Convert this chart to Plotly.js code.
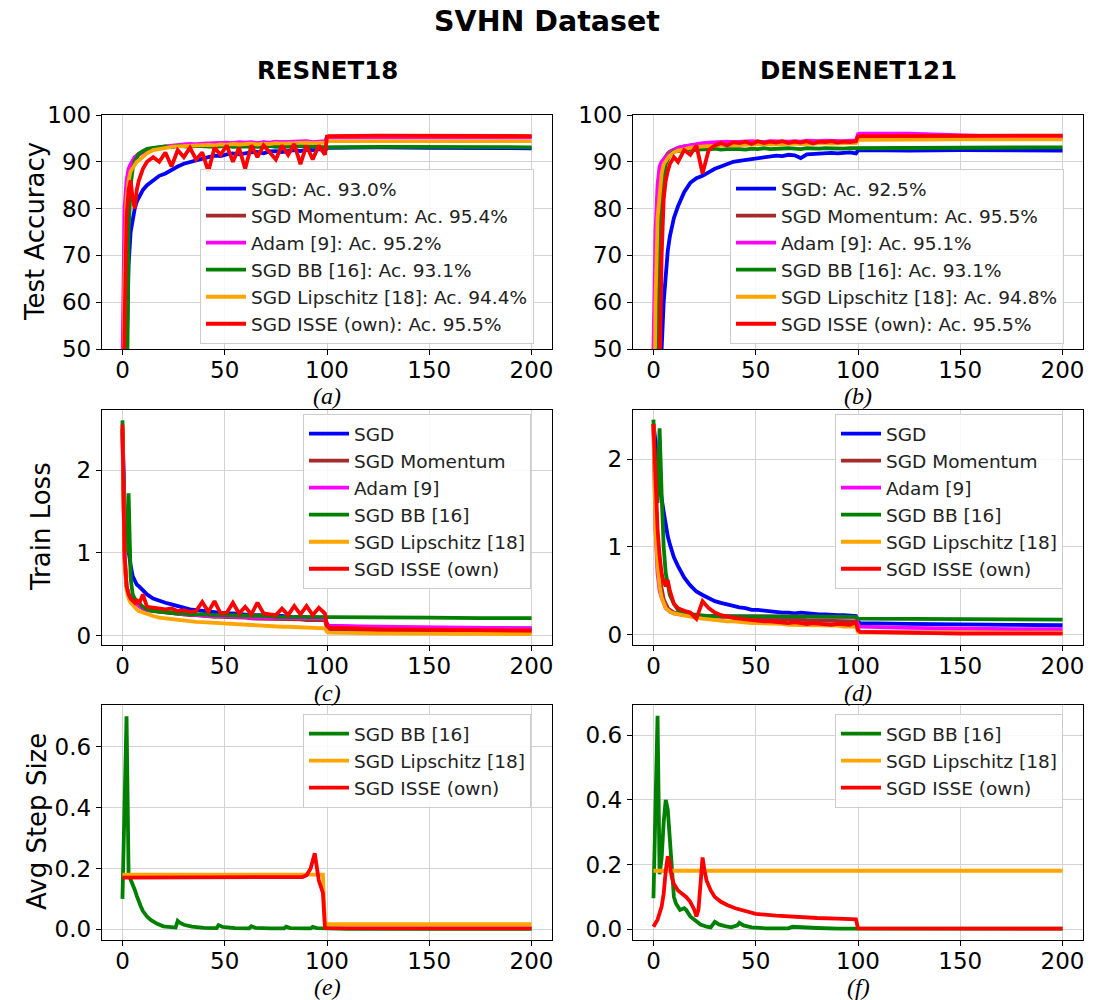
<!DOCTYPE html>
<html>
<head>
<meta charset="utf-8">
<script src="https://cdn.plot.ly/plotly-3.0.1.min.js"></script>
<style>html,body{margin:0;padding:0;background:#fff;}#chart{width:1094px;height:1000px;}</style>
</head>
<body>
<div id="chart"></div>
<script>
// ---------- DATA ----------
const methodNames = ["SGD", "SGD Momentum", "Adam [9]", "SGD BB [16]", "SGD Lipschitz [18]", "SGD ISSE (own)"];
const resFinalAcc = ["93.0", "95.4", "95.2", "93.1", "94.4", "95.5"];
const denFinalAcc = ["92.5", "95.5", "95.1", "93.1", "94.8", "95.5"];
const panelLabels = ["(a)", "(b)", "(c)", "(d)", "(e)", "(f)"];
const yTitles = ["Test Accuracy", "Train Loss", "Avg Step Size"];
const colTitles = ["RESNET18", "DENSENET121"];

const epochs = [0,1,2,3,4,5,6,7,8, 10,12,
  15,18,21,24,27,30,33,36,39, 42,45,48,51,54,57,60,63,66,
  69,72,75,78,81,84,87,90,93,96,99, 100,101,125,150,175,200];

// (a) ResNet18 test accuracy
const resSgdAcc  = [20,30,48,68,75,78,80,81.5,82.5, 84,85, 86,87,87.5,88.3,89,89.6,90,90.4,90.8, 91,91.3,91.2,91.6,91.8,91.6,91.9,92,92.1, 91.8,92.2,92.3,92.1,92.4,92.5,92.3,92.6,92.5,92.7,92.5, 92.9,93.0,93.1,93.0,93.0,92.9];
const resMomAcc  = [30,72,84,87,89,90,90.8,91.3,91.7, 92.2,92.5, 92.8,93,93.2,93.3,93.4,93.5,93.6,93.5,93.7, 93.8,93.7,93.9,93.8,94,93.9,94,94.1,93.9, 94.1,94,94.2,94.1,94.2,94,94.2,94.3,94.1,94.2,94.2, 95.3,95.4,95.4,95.4,95.4,95.4];
const resAdamAcc = [45,80,86,88.5,89.5,90.5,91,91.3,91.6, 92,92.4, 92.8,93.1,93.3,93.5,93.6,93.7,93.8,93.7,93.9, 94,93.9,94,94.1,94,94.2,94.1,94.2,94, 94.2,94.1,94.3,94.2,94.3,94.2,94.3,94.4,94.2,94.3,94.4, 95.1,95.2,95.3,95.2,95.2,95.2];
const resBbAcc   = [10,10,30,75,85,88.5,90,91,91.7, 92.3,92.8, 93,93.2,93.3,93.1,93.4,93.3,93.2,93.4,93.3, 93.4,93.2,93.3,93.4,93.2,93.3,93.4,93.3,93.2, 93.3,93.4,93.2,93.3,93.3,93.2,93.4,93.3,93.2,93.3,93.2, 93.1,93.1,93.2,93.1,93.1,93.1];
const resLipAcc  = [20,65,82,86,88,88.8,89.5,90,90.3, 91,91.8, 92.5,92.8,93,93.2,93.3,93.4,93.5,93.4,93.6, 93.6,93.5,93.7,93.6,93.8,93.7,93.8,93.9,93.7, 93.9,93.8,94,93.9,94,93.9,94,94.1,94,94,94.1, 94.3,94.4,94.4,94.4,94.4,94.4];
const resIsseAcc = [30,55,78,84,86,82,80,84,86, 88.5,90, 91,90,92,89,92.5,91,93,90.5,92, 88,93,91.5,93.5,90,93,88.5,93.5,91, 93.5,92,90.5,93.5,91.5,93.8,89.5,93.5,90.5,93.5,91.5, 95.4,95.5,95.6,95.5,95.5,95.5];

// (b) DenseNet121 test accuracy
const denSgdAcc  = [10,10,10,30,50,60,67,71,74, 78,80.5, 83.5,85.5,86.5,87,87.8,88.5,89,89.5,90, 90.2,90.4,90.6,90.8,91,91,91.3,91.2,91.5, 91.4,90.8,91.6,91.7,91.7,91.8,91.9,91.8,92,92,91.8, 92.4,92.5,92.4,92.5,92.4,92.4];
const denMomAcc  = [10,40,75,86,89,90.5,91.3,91.8,92.2, 92.7,93, 93.3,93.5,93.6,93.8,93.7,93.9,94,93.9,94, 94.1,94,94.1,94.2,94.1,94,94.2,94.1,94.2, 94.2,94.1,94.3,94.2,94.2,94.3,94.2,94.3,94.2,94.3,94.3, 95.4,95.5,95.5,95.5,95.5,95.5];
const denAdamAcc = [50,75,85,89,90,90.5,91,91.5,92, 92.5,93, 93.3,93.6,93.8,94,94.1,94.2,94.1,94.3,94.2, 94.3,94.2,94.4,94.3,94.2,94.4,94.3,94.4,94.3, 94.4,94.3,94.5,94.4,94.4,94.5,94.4,94.5,94.4,94.5,94.5, 95.9,96,96,95.6,95.3,95.1];
const denBbAcc   = [10,10,30,70,82,87,89.5,90.8,91.5, 92.2,92.4, 92.5,92.6,92.5,92.7,92.6,92.8,92.6,92.7,92.8, 92.7,92.6,92.8,92.7,92.9,92.7,92.8,92.7,92.9, 92.8,92.7,92.9,92.8,92.8,92.9,92.8,92.9,92.8,92.9,92.9, 93.1,93.1,93,93.1,93.1,93.1];
const denLipAcc  = [20,60,78,84,87.5,89.5,90.3,90.8,91.3, 92,92.4, 92.8,93,93.2,93.3,93.4,93.5,93.4,93.6,93.5, 93.6,93.7,93.6,93.7,93.8,93.7,93.8,93.7,93.8, 93.9,93.8,93.9,93.8,93.9,94,93.9,94,93.9,94,94, 94.6,94.7,94.8,94.8,94.8,94.8];
const denIsseAcc = [10,10,20,45,70,82,86,88,89.5, 91,90, 92.5,91.5,93.5,87.5,92.5,93.5,94,93.5,94.2, 94,94.3,93.8,94.4,94,94.3,94.1,94.4,94, 94.3,94.1,94.4,93.9,94.3,94.2,94.4,94.1,94.3,94.2,94.4, 95.4,95.5,95.5,95.5,95.5,95.6];

// (c) ResNet18 train loss
const resSgdLoss  = [2.5,1.6,1.2,1.0,0.85,0.72,0.66,0.62,0.6, 0.55,0.5, 0.45,0.42,0.4,0.38,0.36,0.33,0.32,0.31,0.3, 0.29,0.28,0.28,0.27,0.27,0.26,0.26,0.25,0.25, 0.25,0.24,0.24,0.24,0.23,0.23,0.23,0.23,0.22,0.22,0.22, 0.14,0.12,0.1,0.095,0.09,0.09];
const resMomLoss  = [2.5,1.0,0.6,0.5,0.45,0.42,0.4,0.38,0.36, 0.33,0.31, 0.3,0.29,0.28,0.27,0.27,0.26,0.25,0.25,0.24, 0.24,0.23,0.23,0.23,0.22,0.22,0.22,0.21,0.21, 0.21,0.21,0.2,0.2,0.2,0.2,0.2,0.19,0.19,0.19,0.19, 0.09,0.07,0.06,0.055,0.05,0.05];
const resAdamLoss = [2.45,0.9,0.6,0.5,0.45,0.42,0.4,0.38,0.36, 0.33,0.31, 0.3,0.29,0.28,0.27,0.27,0.26,0.26,0.25,0.25, 0.24,0.24,0.24,0.23,0.23,0.23,0.23,0.22,0.22, 0.22,0.22,0.22,0.22,0.21,0.21,0.21,0.21,0.21,0.21,0.21, 0.14,0.12,0.11,0.1,0.09,0.09];
const resBbLoss   = [2.6,1.2,1.0,1.72,0.7,0.5,0.45,0.42,0.4, 0.35,0.32, 0.3,0.29,0.28,0.28,0.27,0.27,0.26,0.26,0.26, 0.25,0.25,0.25,0.25,0.24,0.24,0.24,0.24,0.24, 0.24,0.24,0.23,0.23,0.23,0.23,0.23,0.23,0.23,0.23,0.23, 0.225,0.225,0.22,0.22,0.215,0.215];
const resLipLoss  = [2.5,0.9,0.55,0.45,0.4,0.37,0.34,0.32,0.3, 0.28,0.26, 0.24,0.22,0.21,0.2,0.19,0.18,0.175,0.17,0.165, 0.16,0.155,0.15,0.145,0.14,0.135,0.13,0.13,0.125, 0.12,0.12,0.115,0.11,0.11,0.105,0.1,0.1,0.1,0.095,0.09, 0.05,0.04,0.03,0.025,0.022,0.02];
const resIsseLoss = [2.55,1.0,0.6,0.5,0.45,0.42,0.4,0.44,0.38, 0.5,0.35, 0.34,0.33,0.32,0.33,0.3,0.31,0.29,0.3,0.41, 0.29,0.42,0.27,0.28,0.4,0.27,0.35,0.26,0.4, 0.27,0.26,0.25,0.33,0.25,0.36,0.26,0.36,0.25,0.34,0.27, 0.12,0.1,0.08,0.07,0.07,0.065];

// (d) DenseNet121 train loss
const denSgdLoss  = [2.4,2.2,1.9,1.7,1.55,1.4,1.25,1.12,1.03, 0.88,0.78, 0.65,0.56,0.49,0.45,0.41,0.38,0.36,0.34,0.32, 0.31,0.3,0.28,0.28,0.27,0.26,0.26,0.25,0.25, 0.24,0.25,0.24,0.23,0.23,0.23,0.22,0.22,0.22,0.22,0.21, 0.15,0.13,0.12,0.11,0.11,0.105];
const denMomLoss  = [2.4,1.5,0.9,0.65,0.5,0.4,0.35,0.3,0.28, 0.25,0.24, 0.23,0.22,0.22,0.21,0.21,0.2,0.2,0.2,0.19, 0.19,0.19,0.18,0.18,0.18,0.18,0.17,0.17,0.17, 0.17,0.17,0.16,0.16,0.16,0.16,0.16,0.15,0.15,0.15,0.15, 0.05,0.03,0.025,0.02,0.02,0.02];
const denAdamLoss = [2.35,1.2,0.7,0.5,0.42,0.35,0.3,0.28,0.26, 0.24,0.23, 0.22,0.22,0.21,0.21,0.21,0.21,0.21,0.2,0.2, 0.2,0.2,0.2,0.2,0.2,0.2,0.2,0.2,0.2, 0.2,0.2,0.2,0.2,0.2,0.2,0.2,0.2,0.2,0.2,0.2, 0.11,0.09,0.075,0.065,0.06,0.06];
const denBbLoss   = [2.45,1.6,1.5,2.35,1.6,1.0,0.7,0.55,0.45, 0.35,0.28, 0.24,0.23,0.22,0.22,0.21,0.21,0.21,0.2,0.2, 0.2,0.2,0.2,0.2,0.2,0.2,0.2,0.2,0.2, 0.2,0.2,0.2,0.2,0.2,0.2,0.2,0.2,0.2,0.2,0.2, 0.18,0.18,0.175,0.17,0.17,0.17];
const denLipLoss  = [2.4,1.2,0.8,0.55,0.42,0.35,0.3,0.28,0.26, 0.24,0.23, 0.21,0.2,0.19,0.18,0.17,0.16,0.16,0.15,0.15, 0.14,0.14,0.13,0.13,0.13,0.12,0.12,0.12,0.11, 0.11,0.11,0.11,0.1,0.1,0.1,0.1,0.1,0.09,0.09,0.09, 0.03,0.025,0.02,0.02,0.02,0.02];
const denIsseLoss = [2.4,1.7,1.2,0.9,0.7,0.6,0.55,0.62,0.5, 0.35,0.3, 0.27,0.25,0.18,0.38,0.3,0.25,0.22,0.2,0.19, 0.18,0.17,0.16,0.16,0.15,0.15,0.14,0.14,0.13, 0.14,0.13,0.12,0.13,0.12,0.12,0.11,0.12,0.11,0.11,0.14, 0.05,0.03,0.015,0.01,0.01,0.01];

// (e) ResNet18 average step size
const resBbStepX = [0,1,2,3,4,5,6,7,8,9,10, 12,14,17,20,23,26,27,28,30, 34,40,46,47,49, 55,62,63,65, 72,79,80,82, 90,92,93,95, 100,110,150,200];
const resBbStep  = [0.1,0.4,0.70,0.18,0.165,0.15,0.13,0.11,0.09,0.075,0.06, 0.042,0.03,0.018,0.01,0.007,0.006,0.028,0.022,0.015, 0.009,0.005,0.004,0.014,0.008, 0.004,0.003,0.01,0.005, 0.003,0.003,0.009,0.004, 0.003,0.003,0.008,0.004, 0.003,0.002,0.002,0.002];
const resLipStepX = [0,98,99,200];
const resLipStep  = [0.18,0.18,0.017,0.017];
const resIsseStepX = [0,85,88,90,92,94,95,96,97,98,99,100,150,200];
const resIsseStep  = [0.17,0.17,0.172,0.178,0.2,0.25,0.21,0.16,0.14,0.12,0.005,0.004,0.003,0.003];

// (f) DenseNet121 average step size
const denBbStepX = [0,1,2,3,4,5,6,7,8,9,10,11, 13,15,16,18,20, 23,26,28,30,32, 35,38,41,42,44, 48,55,62,66,68, 72,80,90,100,120, 150,200];
const denBbStep  = [0.096,0.35,0.66,0.17,0.22,0.33,0.40,0.37,0.29,0.18,0.1,0.08, 0.06,0.065,0.06,0.04,0.03, 0.015,0.008,0.006,0.023,0.015, 0.01,0.006,0.012,0.02,0.012, 0.006,0.003,0.003,0.003,0.008, 0.006,0.004,0.002,0.002,0.002, 0.002,0.002];
const denLipStepX = [0,200];
const denLipStep  = [0.181,0.181];
const denIsseStepX = [0,2,4,5,6,7,8,9,10, 12,14,16,18,20, 21,22,23,24,25,26, 28,30,33,36,40, 45,50,60,70,80, 90,98,99,100,200];
const denIsseStep  = [0.008,0.03,0.07,0.11,0.18,0.226,0.2,0.16,0.14, 0.12,0.11,0.1,0.085,0.06, 0.04,0.06,0.14,0.222,0.18,0.15, 0.12,0.1,0.085,0.075,0.065, 0.055,0.048,0.042,0.038,0.035, 0.033,0.031,0.031,0.003,0.002];

// ---------- STYLE ----------
const colors = ["#0000ff", "#a52a2a", "#ff00ff", "#008000", "#ffa500", "#ff0000"];
const LW = 3.8;

function tr(x, y, name, ci, ax, leg) {
  return {x: x, y: y, name: name, type: "scatter", mode: "lines",
    line: {color: colors[ci], width: LW}, xaxis: "x" + ax, yaxis: "y" + ax,
    legend: leg, hoverinfo: "skip"};
}

const traces = [];
const resAcc = [resSgdAcc, resMomAcc, resAdamAcc, resBbAcc, resLipAcc, resIsseAcc];
const denAcc = [denSgdAcc, denMomAcc, denAdamAcc, denBbAcc, denLipAcc, denIsseAcc];
const resLoss = [resSgdLoss, resMomLoss, resAdamLoss, resBbLoss, resLipLoss, resIsseLoss];
const denLoss = [denSgdLoss, denMomLoss, denAdamLoss, denBbLoss, denLipLoss, denIsseLoss];
for (let i = 0; i < 6; i++) traces.push(tr(epochs, resAcc[i], methodNames[i] + ": Ac. " + resFinalAcc[i] + "%", i, "", "legend"));
for (let i = 0; i < 6; i++) traces.push(tr(epochs, denAcc[i], methodNames[i] + ": Ac. " + denFinalAcc[i] + "%", i, "2", "legend2"));
for (let i = 0; i < 6; i++) traces.push(tr(epochs, resLoss[i], methodNames[i], i, "3", "legend3"));
for (let i = 0; i < 6; i++) traces.push(tr(epochs, denLoss[i], methodNames[i], i, "4", "legend4"));
traces.push(tr(resBbStepX, resBbStep, methodNames[3], 3, "5", "legend5"));
traces.push(tr(resLipStepX, resLipStep, methodNames[4], 4, "5", "legend5"));
traces.push(tr(resIsseStepX, resIsseStep, methodNames[5], 5, "5", "legend5"));
traces.push(tr(denBbStepX, denBbStep, methodNames[3], 3, "6", "legend6"));
traces.push(tr(denLipStepX, denLipStep, methodNames[4], 4, "6", "legend6"));
traces.push(tr(denIsseStepX, denIsseStep, methodNames[5], 5, "6", "legend6"));

const W = 1094, H = 1000;
const colX = [[102, 552], [633, 1083]];
const rowY = [[115, 349], [410, 645], [705, 940]];
const FONT = "DejaVu Sans, Verdana, sans-serif";
const SERIF = "Liberation Serif, DejaVu Serif, serif";

function xdom(c) { return [colX[c][0] / W, colX[c][1] / W]; }
function ydom(r) { return [1 - rowY[r][1] / H, 1 - rowY[r][0] / H]; }

const baseAx = {showline: true, mirror: true, linecolor: "#000", linewidth: 1.2,
  ticks: "outside", ticklen: 5, tickwidth: 1, tickcolor: "#000",
  showgrid: true, gridcolor: "#d3d3d3", gridwidth: 1, zeroline: false,
  tickfont: {family: FONT, size: 23, color: "#000"}, automargin: false, fixedrange: true};

function xa(c, r, anchor) {
  return Object.assign({}, baseAx, {domain: xdom(c), anchor: anchor, range: [-10, 210],
    tickvals: [0, 50, 100, 150, 200], ticklabelstandoff: -5});
}
function ya(c, r, anchor, range, tv, tt) {
  const o = Object.assign({}, baseAx, {domain: ydom(r), anchor: anchor, range: range, tickvals: tv});
  if (tt) o.ticktext = tt;
  return o;
}

const accTicks = [50, 60, 70, 80, 90, 100];
const stepTicks = [0, 0.2, 0.4, 0.6];
const stepText = ["0.0", "0.2", "0.4", "0.6"];

function leg(xpx, ypx) {
  return {x: xpx / W, y: 1 - ypx / H, xanchor: "left", yanchor: "top", xref: "paper", yref: "paper",
    bgcolor: "rgba(255,255,255,0.85)", bordercolor: "#cccccc", borderwidth: 1,
    font: {family: FONT, size: 18.5, color: "#222"}, itemwidth: 40, tracegroupgap: 0};
}

const annotations = [];
// column titles
[327, 858].forEach((cx, i) => annotations.push({text: "<b>" + colTitles[i] + "</b>", x: cx / W, y: 1 - 70 / H,
  xref: "paper", yref: "paper", xanchor: "center", yanchor: "middle", showarrow: false,
  font: {family: FONT, size: 24.5, color: "#000"}}));
// y-axis titles (left column)
const yTitlePos = [[35, 232], [41, 527], [37, 822]];
yTitles.forEach((t, i) => annotations.push({text: t, x: yTitlePos[i][0] / W, y: 1 - yTitlePos[i][1] / H,
  xref: "paper", yref: "paper", xanchor: "center", yanchor: "middle", textangle: -90, showarrow: false,
  font: {family: FONT, size: 26, color: "#000"}}));
// panel labels under each x axis
const labelY = [396, 693, 987];
panelLabels.forEach((t, i) => {
  const c = i % 2, r = Math.floor(i / 2);
  annotations.push({text: "<i>" + t + "</i>", x: ((colX[c][0] + colX[c][1]) / 2) / W, y: 1 - labelY[r] / H,
    xref: "paper", yref: "paper", xanchor: "center", yanchor: "middle", showarrow: false,
    font: {family: SERIF, size: 24, color: "#000"}});
});

const layout = {
  width: W, height: H, margin: {l: 0, r: 0, t: 0, b: 0},
  paper_bgcolor: "#fff", plot_bgcolor: "#fff", showlegend: true,
  title: {text: "<b>SVHN Dataset</b>", x: 0.5, xanchor: "center", y: 0.979, yanchor: "middle",
    font: {family: FONT, size: 28.5, color: "#000"}},
  annotations: annotations,
  xaxis:  xa(0, 0, "y"),
  yaxis:  ya(0, 0, "x", [50, 100], accTicks, null),
  xaxis2: xa(1, 0, "y2"),
  yaxis2: ya(1, 0, "x2", [50, 100], accTicks, null),
  xaxis3: xa(0, 1, "y3"),
  yaxis3: ya(0, 1, "x3", [-0.11, 2.725], [0, 1, 2], null),
  xaxis4: xa(1, 1, "y4"),
  yaxis4: ya(1, 1, "x4", [-0.12, 2.56], [0, 1, 2], null),
  xaxis5: xa(0, 2, "y5"),
  yaxis5: ya(0, 2, "x5", [-0.035, 0.737], stepTicks, stepText),
  xaxis6: xa(1, 2, "y6"),
  yaxis6: ya(1, 2, "x6", [-0.033, 0.693], stepTicks, stepText),
  legend:  leg(200, 169),
  legend2: leg(730, 169),
  legend3: leg(303, 414),
  legend4: leg(835, 414),
  legend5: leg(303, 714),
  legend6: leg(835, 714)
};

Plotly.newPlot("chart", traces, layout, {staticPlot: true, displayModeBar: false});
</script>
</body>
</html>
